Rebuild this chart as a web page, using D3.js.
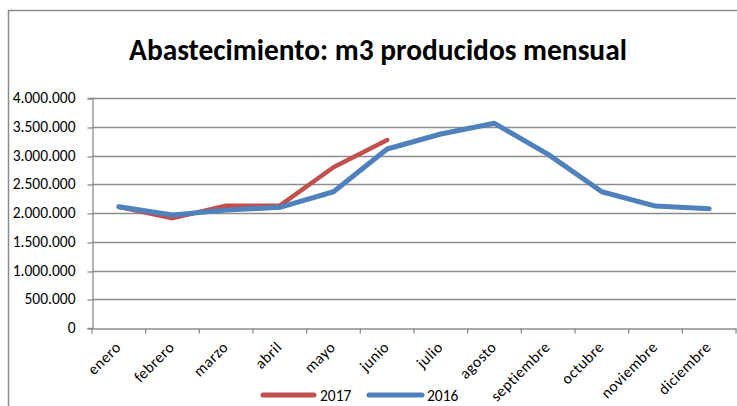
<!DOCTYPE html>
<html><head><meta charset="utf-8">
<script src="https://cdnjs.cloudflare.com/ajax/libs/d3/7.8.5/d3.min.js"></script>
<style>body{margin:0;background:#fff}svg{display:block}</style>
</head><body>
<svg id="c" width="737" height="406"></svg>
<script>
const months = ["enero","febrero","marzo","abril","mayo","junio","julio","agosto","septiembre","octubre","noviembre","diciembre"];
const values2017 = [2110000,1910000,2127000,2127000,2795000,3270000];
const values2016 = [2110000,1965000,2050000,2099000,2370000,3113000,3374000,3560000,3020000,2370000,2120000,2075000];
const yTicks = [0,500000,1000000,1500000,2000000,2500000,3000000,3500000,4000000];
const seriesNames = ["2017","2016"];
const colors = ["#C0504D","#4F81BD"];
const titleText = "Abastecimiento: m3 producidos mensual";

const svg = d3.select("#c");
const font = "Carlito, Lato, 'Liberation Sans', sans-serif";
const fs = 15.5;
const loc = d3.formatLocale({decimal:",",thousands:".",grouping:[3],currency:["","€"]});
const fmt = loc.format(",.0f");

const L = 92, R = 736, T = 98, B = 328;
const x = d3.scaleBand().domain(months).range([L,R]);
const y = d3.scaleLinear().domain([0,4000000]).range([B,T]);

// frame
svg.append("rect").attr("x",8.5).attr("y",10.5).attr("width",740).attr("height",420)
  .attr("fill","none").attr("stroke","#8a8a8a").attr("stroke-width",1.5);

// title
const t = svg.append("text").attr("x",378).attr("y",60).attr("text-anchor","middle")
  .attr("font-family",font).attr("font-weight","bold").attr("font-size",22).attr("fill","#000").text(titleText);
const w = t.node().getComputedTextLength();
t.attr("font-size", 22*498/w);

// gridlines
svg.append("g").selectAll("line").data(yTicks.filter(d=>d>0)).join("line")
  .attr("x1",L).attr("x2",R).attr("y1",d=>Math.round(y(d))+0.5).attr("y2",d=>Math.round(y(d))+0.5)
  .attr("stroke","#8c8c8c").attr("stroke-width",1.3);

// y axis
const ya = svg.append("g").attr("transform",`translate(${L+0.5},0)`)
  .call(d3.axisLeft(y).tickValues(yTicks).tickFormat(fmt).tickSize(5).tickPadding(12));
ya.select(".domain").attr("stroke","#8c8c8c").attr("stroke-width",1.3);
ya.selectAll(".tick line").attr("stroke","#8c8c8c").attr("stroke-width",1.3)
  .attr("transform",d=>`translate(0,${Math.round(y(d))+0.5-y(d)})`);
ya.selectAll("text").attr("font-family",font).attr("font-size",fs).attr("fill","#000")
  .attr("transform",d=>`translate(0,${Math.round(y(d))-y(d)})`);

// x axis
const xa = svg.append("g").attr("transform",`translate(0,${B+0.5})`)
  .call(d3.axisBottom(x).tickSize(0).tickFormat(""));
xa.select(".domain").attr("stroke","#8c8c8c").attr("stroke-width",1.3);
const bounds = months.map((m,i)=>L + i*x.step()).concat([R]);
xa.append("g").selectAll("line").data(bounds).join("line")
  .attr("x1",d=>d).attr("x2",d=>d).attr("y1",0).attr("y2",5).attr("stroke","#8c8c8c").attr("stroke-width",1.3);
svg.append("g").selectAll("text").data(months).join("text")
  .attr("transform",d=>`translate(${x(d)+x.bandwidth()/2+3},${B+20}) rotate(-45)`)
  .attr("text-anchor","end").attr("font-family",font).attr("font-size",15.5).attr("letter-spacing",0.5)
  .attr("fill","#000").text(d=>d);

// lines
const line = d3.line().x((d,i)=>x(months[i])+x.bandwidth()/2).y(d=>y(d));
svg.append("path").datum(values2017).attr("d",line).attr("fill","none")
  .attr("stroke",colors[0]).attr("stroke-width",4.5).attr("stroke-linecap","round").attr("stroke-linejoin","round");
svg.append("path").datum(values2016).attr("d",line).attr("fill","none")
  .attr("stroke",colors[1]).attr("stroke-width",5).attr("stroke-linecap","round").attr("stroke-linejoin","round");

// legend
const lg = [{x1:263,x2:314,tx:320},{x1:369,x2:422,tx:427}];
seriesNames.forEach((n,i)=>{
  svg.append("line").attr("x1",lg[i].x1).attr("x2",lg[i].x2).attr("y1",395).attr("y2",395)
    .attr("stroke",colors[i]).attr("stroke-width",5).attr("stroke-linecap","round");
  svg.append("text").attr("x",lg[i].tx).attr("y",401).attr("font-family",font).attr("font-size",fs).attr("fill","#000").text(n);
});
</script>
</body></html>
